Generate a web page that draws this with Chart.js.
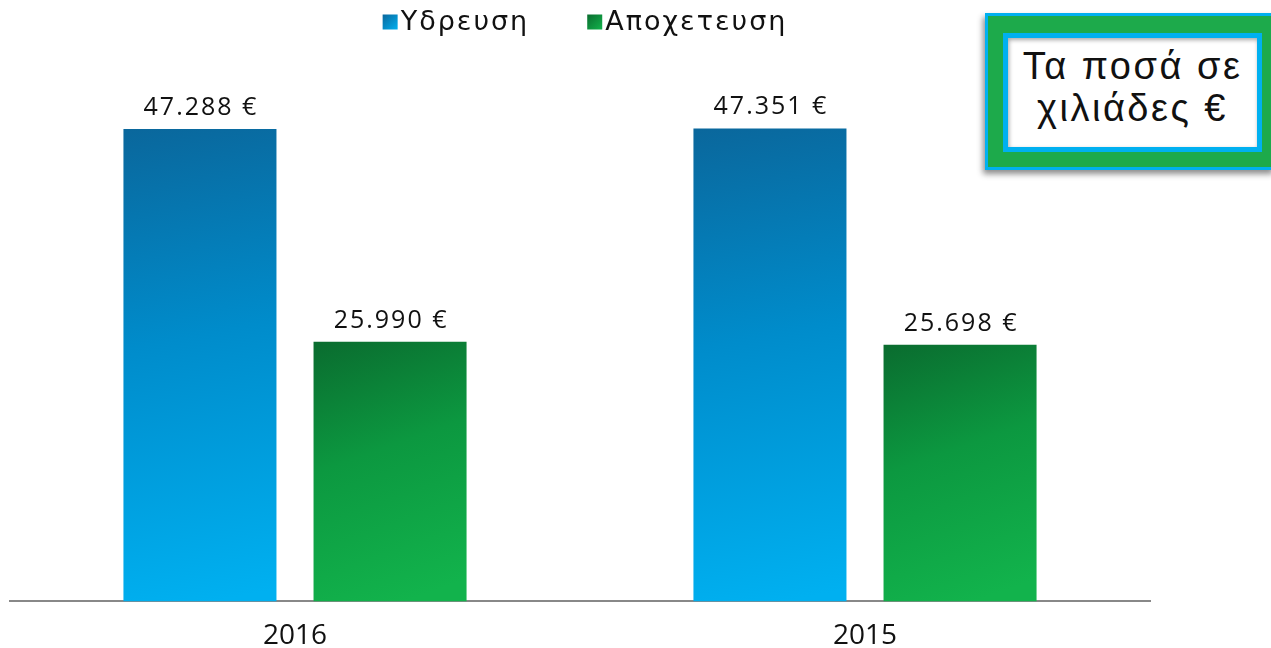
<!DOCTYPE html>
<html lang="el">
<head>
    <meta charset="UTF-8">
    <title>Ύδρευση - Αποχέτευση</title>
    <script src="https://cdn.jsdelivr.net/npm/chart.js"></script>
    <style>
        html, body {
            margin: 0;
            padding: 0;
            background: #fff;
            overflow: hidden;
        }
        .wrap {
            position: relative;
            width: 1271px;
            height: 648px;
        }
        .note {
            position: absolute;
            left: 985px;
            top: 13px;
            width: 290px;
            height: 157px;
            box-sizing: border-box;
            background: #1DAA4B;
            border: 3px solid #00B0F0;
            box-shadow: -2px 4px 6px rgba(0, 0, 0, 0.45);
        }
        .note .inner {
            position: absolute;
            left: 15px;
            top: 17px;
            width: 259px;
            height: 119px;
            box-sizing: border-box;
            background: #fff;
            border: 5px solid #00B0F0;
            box-shadow: inset 1px 2px 4px rgba(0, 0, 0, 0.35);
            font-family: "Liberation Sans", Arial, sans-serif;
            font-size: 38px;
            line-height: 42px;
            color: #111;
            text-align: center;
            padding-top: 7px;
            letter-spacing: 2.5px;
        }
    </style>
</head>
<body>
<div class="wrap">
    <canvas id="chart" width="1271" height="648"></canvas>
    <div class="note"><div class="inner">Τα ποσά σε<br>χιλιάδες €</div></div>
</div>

<script>
    const years = ['2016', '2015'];
    const water = [47288, 47351];     // Υδρευση
    const sewage = [25990, 25698];    // Αποχετευση
    const valueLabels = [['47.288 €', '47.351 €'], ['25.990 €', '25.698 €']];

    const catPct = 0.667;
    const barPct = 0.805;

    const palettes = [
        { dark: '#0A679C', mid: '#008CCB', light: '#00B0F0' },
        { dark: '#0A6C2F', mid: '#0C9840', light: '#12B34C' }
    ];

    function barGradient(context) {
        const chart = context.chart;
        const ds = context.datasetIndex;
        const p = palettes[ds];
        if (!chart.chartArea || context.type !== 'data') return p.mid;
        const xs = chart.scales.x, ys = chart.scales.y;
        const cat = xs.width / chart.data.labels.length;
        const slot = cat * catPct / 2;
        const w = slot * barPct;
        const cx = xs.getPixelForValue(context.dataIndex) + (ds === 0 ? -slot / 2 : slot / 2);
        const left = cx - w / 2;
        const top = ys.getPixelForValue(context.raw);
        const bottom = ys.getPixelForValue(0);
        const g = chart.ctx.createLinearGradient(left, top, left + w * 0.6, bottom);
        g.addColorStop(0, p.dark);
        g.addColorStop(0.45, p.mid);
        g.addColorStop(1, p.light);
        return g;
    }

    const valueLabelPlugin = {
        id: 'valueLabels',
        afterDatasetsDraw(chart) {
            const ctx = chart.ctx;
            ctx.save();
            ctx.font = '25px "Open Sans", sans-serif';
            ctx.letterSpacing = '2px';
            ctx.fillStyle = '#111';
            ctx.textAlign = 'center';
            ctx.textBaseline = 'alphabetic';
            chart.data.datasets.forEach((ds, i) => {
                chart.getDatasetMeta(i).data.forEach((bar, j) => {
                    ctx.fillText(valueLabels[i][j], bar.x + 1, bar.y - 14);
                });
            });
            ctx.restore();
        }
    };

    // legend drawn by hand so it can sit close to the top edge
    const topLegendPlugin = {
        id: 'topLegend',
        afterDraw(chart) {
            const ctx = chart.ctx;
            ctx.save();
            ctx.font = '27px "DejaVu Sans", sans-serif';
            ctx.letterSpacing = '2px';
            ctx.textBaseline = 'middle';
            ctx.fillStyle = '#111';
            const box = 15, gap = 3, itemGap = 58;
            const items = chart.data.datasets.map(d => d.label);
            const widths = items.map(t => box + gap + ctx.measureText(t).width);
            const total = widths.reduce((a, b) => a + b, 0) + itemGap * (items.length - 1);
            let x = (chart.chartArea.left + chart.chartArea.right) / 2 + 5 - total / 2;
            const y = 22;
            items.forEach((t, i) => {
                const g = ctx.createLinearGradient(x, y - box / 2, x + box, y + box / 2);
                g.addColorStop(0, palettes[i].dark);
                g.addColorStop(1, palettes[i].light);
                ctx.fillStyle = g;
                ctx.fillRect(x, y - box / 2, box, box);
                ctx.fillStyle = '#111';
                ctx.fillText(t, x + box + gap, y + 1);
                x += widths[i] + itemGap;
            });
            ctx.restore();
        }
    };

    new Chart(document.getElementById('chart'), {
        type: 'bar',
        data: {
            labels: years,
            datasets: [
                { label: 'Υδρευση', data: water, backgroundColor: barGradient },
                { label: 'Αποχετευση', data: sewage, backgroundColor: barGradient }
            ]
        },
        plugins: [valueLabelPlugin, topLegendPlugin],
        options: {
            responsive: false,
            animation: false,
            layout: { padding: { left: 10, right: 121, top: 52, bottom: -23 } },
            datasets: {
                bar: { categoryPercentage: catPct, barPercentage: barPct }
            },
            plugins: {
                tooltip: { enabled: false },
                legend: { display: false }
            },
            scales: {
                x: {
                    grid: { display: false, drawTicks: false },
                    border: { display: true, color: '#888', width: 2 },
                    ticks: {
                        color: '#111',
                        padding: 18,
                        font: { family: '"Open Sans", sans-serif', size: 28 }
                    }
                },
                y: {
                    display: false,
                    min: 0,
                    max: 55000
                }
            }
        }
    });
</script>
</body>
</html>
